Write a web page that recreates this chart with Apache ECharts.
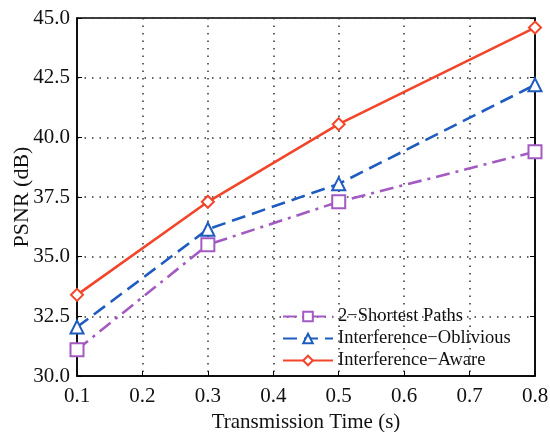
<!DOCTYPE html>
<html lang="en">
  <head>
    <meta charset="UTF-8" />
    <title>psnr-vs-time</title>
    <style>
      body {
        margin: 0;
        background: #fff;
      }
      #chart {
        width: 550px;
        height: 432px;
      }
    </style>
    <script src="https://cdn.jsdelivr.net/npm/echarts@6/dist/echarts.min.js"></script>
  </head>
  <body>
    <div id="chart"></div>

    <script>
      // data
      const times = [0.1, 0.3, 0.5, 0.8];
      const shortestPaths = [31.1, 35.5, 37.3, 39.4];
      const oblivious = [32.05, 36.15, 38.05, 42.2];
      const aware = [33.4, 37.3, 40.55, 44.6];

      const font = "Liberation Serif";
      const pair = (arr) => arr.map((v, i) => [times[i], v]);

      const makeSeries = (name, data, color, symbol, dash) => ({
        name: name,
        type: "line",
        data: pair(data),
        symbol: symbol,
        symbolSize: symbol === "diamond" ? 12 : 13,
        showSymbol: true,
        lineStyle: { color: color, width: 2.6, type: dash },
        itemStyle: { color: "#fff", borderColor: color, borderWidth: 2 },
        emphasis: { disabled: true },
        z: 3,
      });

      const chart = echarts.init(document.getElementById("chart"));
      chart.setOption({
        animation: false,
        grid: {
          left: 77,
          right: 15,
          top: 18,
          bottom: 56,
          outerBoundsMode: "none",
          containLabel: false,
          show: true,
          borderColor: "#000",
          borderWidth: 1.5,
        },
        legend: {
          orient: "vertical",
          left: 277,
          top: 302,
          itemWidth: 50,
          itemHeight: 12,
          itemGap: 3,
          textStyle: { fontFamily: font, fontSize: 18.5, color: "#111" },
          data: [
            "2\u2212Shortest Paths",
            "Interference\u2212Oblivious",
            "Interference\u2212Aware",
          ],
        },
        xAxis: [
          {
            type: "value",
            min: 0.1,
            max: 0.8,
            interval: 0.1,
            name: "Transmission Time (s)",
            nameLocation: "middle",
            nameGap: 36,
            nameMoveOverlap: false,
            nameTextStyle: { fontFamily: font, fontSize: 21, color: "#111" },
            axisLine: { lineStyle: { color: "#000", width: 1.5 } },
            axisTick: { inside: true, length: 5, lineStyle: { color: "#000" } },
            axisLabel: {
              fontFamily: font,
              fontSize: 21,
              color: "#111",
              margin: 10,
              formatter: (v) => v.toFixed(1),
            },
            splitLine: {
              show: true,
              lineStyle: { color: "#333", type: [1.5, 6], width: 1.5 },
            },
          },
        ],
        yAxis: [
          {
            type: "value",
            min: 30,
            max: 45,
            interval: 2.5,
            name: "PSNR (dB)",
            nameLocation: "middle",
            nameGap: 44,
            nameMoveOverlap: false,
            nameTextStyle: { fontFamily: font, fontSize: 22, color: "#111" },
            axisLine: { show: true, lineStyle: { color: "#000", width: 1.5 } },
            axisTick: { show: true, inside: true, length: 5, lineStyle: { color: "#000" } },
            axisLabel: {
              fontFamily: font,
              fontSize: 21,
              color: "#111",
              margin: 7,
              formatter: (v) => v.toFixed(1),
            },
            splitLine: {
              show: true,
              lineStyle: { color: "#333", type: [1.5, 6], width: 1.5 },
            },
          },
          {
            type: "value",
            position: "right",
            min: 30,
            max: 45,
            interval: 2.5,
            axisLine: { show: true, lineStyle: { color: "#000", width: 1.5 } },
            axisTick: { show: true, inside: true, length: 5, lineStyle: { color: "#000" } },
            axisLabel: { show: false },
            splitLine: { show: false },
          },
        ],
        series: [
          makeSeries("2\u2212Shortest Paths", shortestPaths, "#a35bc2", "rect", [14, 6, 3, 6]),
          makeSeries("Interference\u2212Oblivious", oblivious, "#1f5cbf", "triangle", [14, 7]),
          makeSeries("Interference\u2212Aware", aware, "#f2452a", "diamond", "solid"),
        ],
      });
    </script>
  </body>
</html>
